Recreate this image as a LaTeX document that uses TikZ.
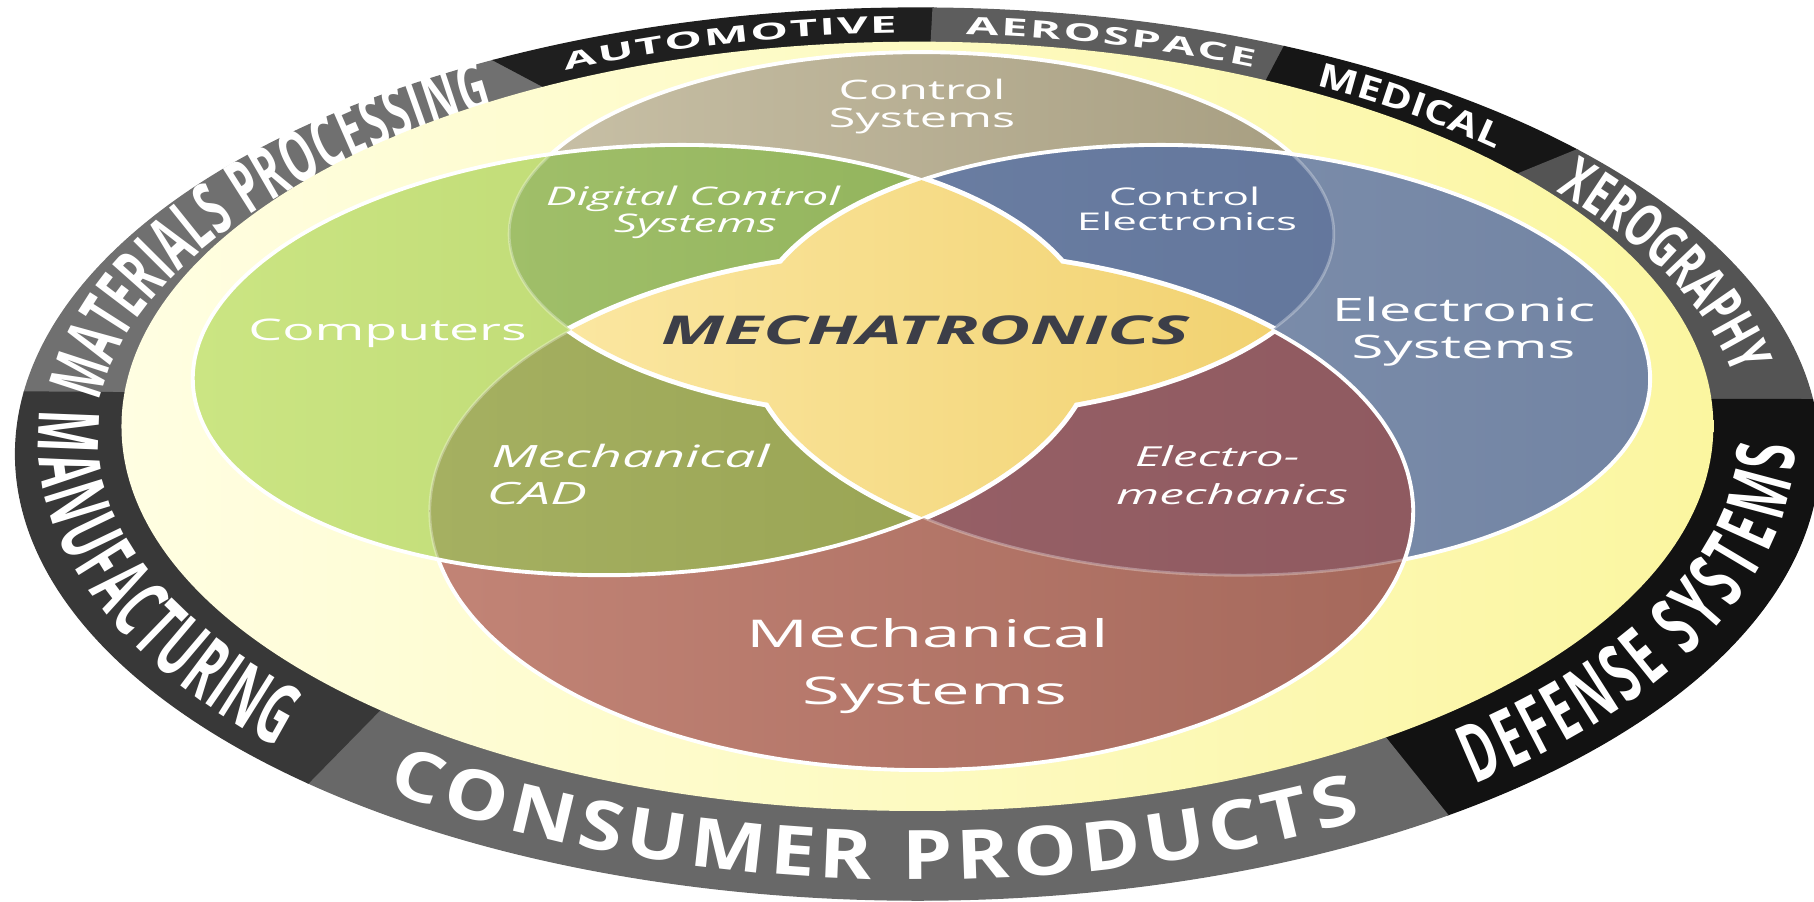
\documentclass[tikz,border=0pt]{standalone}
\usepackage{fontspec}
\setmainfont{Open Sans}
\newfontfamily\vfont{Open Sans}[FakeStretch=1.8]
\newfontfamily\fMat{Open Sans}[FakeStretch=0.56]
\newfontfamily\fAuto{Open Sans}[FakeStretch=2.05]
\newfontfamily\fAero{Open Sans}[FakeStretch=1.94]
\newfontfamily\fMed{Open Sans}[FakeStretch=1.26]
\newfontfamily\fXer{Open Sans}[FakeStretch=0.65]
\newfontfamily\fDef{Open Sans}[FakeStretch=0.58]
\newfontfamily\fCon{Open Sans}[FakeStretch=1.175]
\newfontfamily\fMan{Open Sans}[FakeStretch=0.53]
\usetikzlibrary{decorations.text}

\definecolor{tanL}{HTML}{C9C1A7}\definecolor{tanR}{HTML}{A69D80}
\definecolor{blueL}{HTML}{8596B2}\definecolor{blueR}{HTML}{7284A3}
\definecolor{ceL}{HTML}{6C7FA3}\definecolor{ceR}{HTML}{5F7399}
\definecolor{redL}{HTML}{C28476}\definecolor{redR}{HTML}{A5685B}
\definecolor{emL}{HTML}{9C646B}\definecolor{emR}{HTML}{8F5A60}
\definecolor{grL}{HTML}{CBE583}\definecolor{grR}{HTML}{B5D168}
\definecolor{dcsL}{HTML}{A0BF69}\definecolor{dcsR}{HTML}{86AA52}
\definecolor{cadL}{HTML}{A5B061}\definecolor{cadR}{HTML}{8F9A48}
\definecolor{stL}{HTML}{FBE7A2}\definecolor{stR}{HTML}{F1D16E}
\definecolor{yl}{HTML}{FFFEE2}\definecolor{ym}{HTML}{FDFBC6}\definecolor{yr}{HTML}{FBF6A0}
\definecolor{cMat}{HTML}{707070}\definecolor{cAuto}{HTML}{1F1F1F}
\definecolor{cAero}{HTML}{5D5D5D}\definecolor{cMed}{HTML}{161616}
\definecolor{cXer}{HTML}{545454}\definecolor{cDef}{HTML}{121212}
\definecolor{cCon}{HTML}{686868}\definecolor{cMan}{HTML}{383838}
\definecolor{mechc}{HTML}{3C3E48}

\pgfmathdeclarefunction{vennx}{2}{\pgfmathparse{796.5+303*#1/(1-0.1105*#2)}}
\pgfmathdeclarefunction{venny}{1}{\pgfmathparse{(112.4*#1+285.2)/(1-0.1105*#1)}}
\newcommand\vc[2]{plot[domain=0:356,samples=90,smooth cycle] ({vennx(#1+1.267*cos(\x),#2+1.267*sin(\x))},{venny(#2+1.267*sin(\x))})}
\newcommand\ringseg[5]{%
  \fill[#1, draw=#1, line width=0.4pt] ({793+779.5*cos(#2)},{392.5+385.5*sin(#2)})
    arc[start angle=#2, end angle=#3, x radius=779.5, y radius=385.5]
    -- ({793+688*cos(#5)},{368.5+332.5*sin(#5)})
    arc[start angle=#5, end angle=#4, x radius=688, y radius=332.5] -- cycle;}
\newcommand\ringtext[5]{%
  \path[decorate, decoration={text along path, text={|#1|#2}, text align={fit to path},
      text color=white, raise=#5}]
    ({793+733.75*cos(#3)},{380.5+359*sin(#3)})
    arc[start angle=#3, end angle=#4, x radius=733.75, y radius=359];}

\tikzset{
  wline/.style={white, line width=1.1pt},
  fline/.style={white, opacity=0.3, line width=0.8pt},
  swline/.style={white, line width=2.8pt},
  lbl/.style={text=white, inner sep=0pt, anchor=base},
}

\begin{document}
\begin{tikzpicture}[x=0.011569cm, y=-0.011566cm]
\useasboundingbox (0,0) rectangle (1568,779);
\clip (0,0) rectangle (1568,779);

% ---- outer ring segments
\ringseg{cMat}{188}{242}{185}{242}
\ringseg{cAuto}{242}{271}{242}{271}
\ringseg{cAero}{271}{294}{271}{296}
\ringseg{cMed}{294}{317}{296}{319}
\ringseg{cXer}{317}{353}{319}{356}
\ringseg{cDef}{353}{414}{356}{414}
\ringseg{cCon}{54}{132.5}{54}{132.5}
\ringseg{cMan}{132.5}{188}{132.5}{185}

% ---- ring labels
\ringtext{\fMat\bfseries\fontsize{21}{22}\selectfont}{MATERIALS PROCESSING}{186.5}{239.5}{-7.5pt}
\ringtext{\fAuto\bfseries\fontsize{6.6}{7}\selectfont}{AUTOMOTIVE}{245.4}{268.6}{-2.36pt}
\ringtext{\fAero\bfseries\fontsize{6.9}{7}\selectfont}{AEROSPACE}{273.3}{293.5}{-2.46pt}
\ringtext{\fMed\bfseries\fontsize{9.5}{10}\selectfont}{MEDICAL}{298.3}{313.4}{-3.39pt}
\ringtext{\fXer\bfseries\fontsize{17}{18}\selectfont}{XEROGRAPHY}{320}{350}{-6.07pt}
\ringtext{\fDef\bfseries\fontsize{23}{24}\selectfont}{DEFENSE SYSTEMS}{50}{0.5}{-8.2pt}
\ringtext{\fCon\bfseries\fontsize{19.4}{20}\selectfont}{CONSUMER PRODUCTS}{128}{59}{-6.93pt}
\ringtext{\fMan\bfseries\fontsize{24}{25}\selectfont}{MANUFACTURING}{184}{137.5}{-8.57pt}

% ---- pale yellow disc
\shade[left color=yl, middle color=ym, right color=yr] (793,368.5) ellipse[x radius=688, y radius=332.5];

% ---- top circle (control systems)
\shade[left color=tanL, right color=tanR] \vc{0}{-0.779};
\draw[wline] \vc{0}{-0.779};

% ---- right circle (electronic systems)
\shade[left color=blueL, right color=blueR] \vc{0.779}{0};
\begin{scope}
  \clip \vc{0}{-0.779};
  \shade[left color=ceL, right color=ceR] \vc{0.779}{0};
\end{scope}
\begin{scope}
  \clip \vc{0.779}{0};
  \draw[fline] \vc{0}{-0.779};
\end{scope}
\draw[wline] \vc{0.779}{0};

% ---- bottom circle (mechanical systems)
\shade[left color=redL, right color=redR] \vc{0}{0.779};
\begin{scope}
  \clip \vc{0.779}{0};
  \shade[left color=emL, right color=emR] \vc{0}{0.779};
\end{scope}
\begin{scope}
  \clip \vc{0}{0.779};
  \draw[fline] \vc{0.779}{0};
\end{scope}
\draw[wline] \vc{0}{0.779};

% ---- left circle (computers)
\shade[left color=grL, right color=grR] \vc{-0.779}{0};
\begin{scope}
  \clip \vc{-0.779}{0};
  \shade[left color=dcsL, right color=dcsR] \vc{0}{-0.779};
  \shade[left color=cadL, right color=cadR] \vc{0}{0.779};
  \draw[fline] \vc{0}{-0.779};
  \draw[fline] \vc{0}{0.779};
\end{scope}
\draw[wline] \vc{-0.779}{0};

% ---- central star (union of two lenses)
\begin{scope}\clip \vc{0}{-0.779}; \draw[swline] \vc{0}{0.779}; \end{scope}
\begin{scope}\clip \vc{0}{0.779}; \draw[swline] \vc{0}{-0.779}; \end{scope}
\begin{scope}\clip \vc{-0.779}{0}; \draw[swline] \vc{0.779}{0}; \end{scope}
\begin{scope}\clip \vc{0.779}{0}; \draw[swline] \vc{-0.779}{0}; \end{scope}
\begin{scope}
  \clip \vc{0}{-0.779}; \clip \vc{0}{0.779};
  \shade[left color=stL, right color=stR] (470,140) rectangle (1130,470);
\end{scope}
\begin{scope}
  \clip \vc{-0.779}{0}; \clip \vc{0.779}{0};
  \shade[left color=stL, right color=stR] (470,140) rectangle (1130,470);
\end{scope}

% ---- labels
\node[lbl, font=\vfont\fontsize{7.64}{8}\selectfont] (cs1) at (797,86) {Control};
\node[lbl, font=\vfont\fontsize{7.64}{8}\selectfont] (cs2) at (797,110) {Systems};
\node[lbl, font=\vfont\itshape\fontsize{7.3}{8}\selectfont] (dcs1) at (599,178) {Digital Control};
\node[lbl, font=\vfont\itshape\fontsize{7.3}{8}\selectfont] (dcs2) at (601,201) {Systems};
\node[lbl, font=\vfont\fontsize{6.94}{8}\selectfont] (ce1) at (1024,177.5) {Control};
\node[lbl, font=\vfont\fontsize{6.94}{8}\selectfont] (ce2) at (1026,199.5) {Electronics};
\node[lbl, font=\vfont\fontsize{8.47}{9}\selectfont] (comp) at (335,294) {Computers};
\node[lbl, font=\vfont\fontsize{9.18}{10}\selectfont] (es1) at (1265,278) {Electronic};
\node[lbl, font=\vfont\fontsize{9.18}{10}\selectfont] (es2) at (1265,310) {Systems};
\node[lbl, font=\vfont\itshape\fontsize{8.74}{9}\selectfont] (cad1) at (545,404.5) {Mechanical};
\node[lbl, anchor=base west, font=\vfont\itshape\fontsize{8.74}{9}\selectfont] (cad2) at (420,436.5) {CAD};
\node[lbl, font=\vfont\itshape\fontsize{7.83}{8}\selectfont] (em1) at (1052,403.5) {Electro-};
\node[lbl, font=\vfont\itshape\fontsize{7.83}{8}\selectfont] (em2) at (1065,436.5) {mechanics};
\node[lbl, font=\vfont\fontsize{10.87}{11}\selectfont] (ms1) at (802,560) {Mechanical};
\node[lbl, font=\vfont\fontsize{10.87}{11}\selectfont] (ms2) at (808,609) {Systems};
\node[lbl, text=mechc, font=\vfont\bfseries\itshape\fontsize{11.3}{12}\selectfont] (mech) at (800,298) {MECHATRONICS};
\end{tikzpicture}
\end{document}
